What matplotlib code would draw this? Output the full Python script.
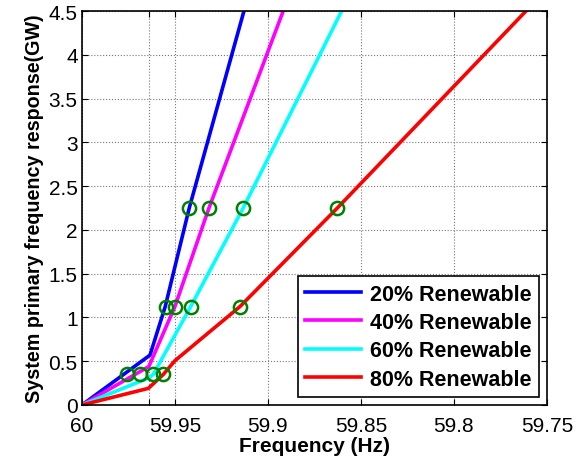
import numpy as np
import matplotlib
matplotlib.use('Agg')
from matplotlib import pyplot as plt

plt.rcParams['font.family'] = ['Liberation Sans', 'DejaVu Sans']

# line data (frequency in Hz, response in GW)
f20 = [60, 59.9634, 59.9552, 59.9423, 59.9129]
p20 = [0, 0.57, 1.125, 2.25, 4.5]
f40 = [60, 59.964, 59.9500, 59.9317, 59.8918]
p40 = [0, 0.44, 1.125, 2.25, 4.5]
f60 = [60, 59.964, 59.9616, 59.9415, 59.9133, 59.8604]
p60 = [0, 0.31, 0.35, 1.125, 2.25, 4.5]
f80 = [60, 59.9643, 59.9562, 59.9500, 59.9150, 59.8627, 59.7613]
p80 = [0, 0.19, 0.35, 0.506, 1.125, 2.25, 4.5]

# operating points (green circles)
mk_f = [59.9756, 59.9548, 59.9423,
        59.9688, 59.9500, 59.9317,
        59.9616, 59.9415, 59.9133,
        59.9562, 59.9150, 59.8627]
mk_p = [0.35, 1.125, 2.25] * 4

labels = ['20% Renewable', '40% Renewable', '60% Renewable', '80% Renewable']
colors = ['#0000ff', '#ff00ff', '#00ffff', '#ff0000']

xticks = [60, 59.964, 59.95, 59.9, 59.85, 59.8, 59.75]
xticklabels = ['60', '', '59.95', '59.9', '59.85', '59.8', '59.75']
yticks = [0, 0.5, 1, 1.5, 2, 2.5, 3, 3.5, 4, 4.5]
yticklabels = ['0', '0.5', '1', '1.5', '2', '2.5', '3', '3.5', '4', '4.5']

fig = plt.figure(figsize=(5.85, 4.64), dpi=100)
ax = fig.add_axes([0.140, 0.125, 0.795, 0.849])

for f, p, lab, c in zip([f20, f40, f60, f80], [p20, p40, p60, p80], labels, colors):
    ax.plot(f, p, color=c, lw=2.6, label=lab)

ax.plot(mk_f, mk_p, 'o', mfc='none', mec='#008000', ms=9.5, mew=1.8, ls='none')

ax.set_xlim(60, 59.75)
ax.set_ylim(0, 4.5)
ax.set_xticks(xticks)
ax.set_xticklabels(xticklabels)
ax.set_yticks(yticks)
ax.set_yticklabels(yticklabels)
ax.tick_params(direction='in', top=True, right=True, labelsize=15, length=4)
ax.tick_params(axis='x', pad=8)
ax.tick_params(axis='y', pad=3)
ax.grid(True, ls=':', color='#777777', lw=0.8)
for s in ax.spines.values():
    s.set_linewidth(1.2)

ax.set_xlabel('Frequency (Hz)', fontsize=15, fontweight='bold', labelpad=1)
ax.set_ylabel('System primary frequency response(GW)', fontsize=14.2, fontweight='bold', labelpad=3)

leg = ax.legend(loc='lower right', bbox_to_anchor=(0.983, 0.02), borderaxespad=0,
                fancybox=False, edgecolor='black', framealpha=1,
                prop={'weight': 'bold', 'size': 15.5}, handlelength=2.6,
                handletextpad=0.4, labelspacing=0.34, borderpad=0.35)
leg.get_frame().set_linewidth(1.2)

plt.savefig('out.png', dpi=100)
